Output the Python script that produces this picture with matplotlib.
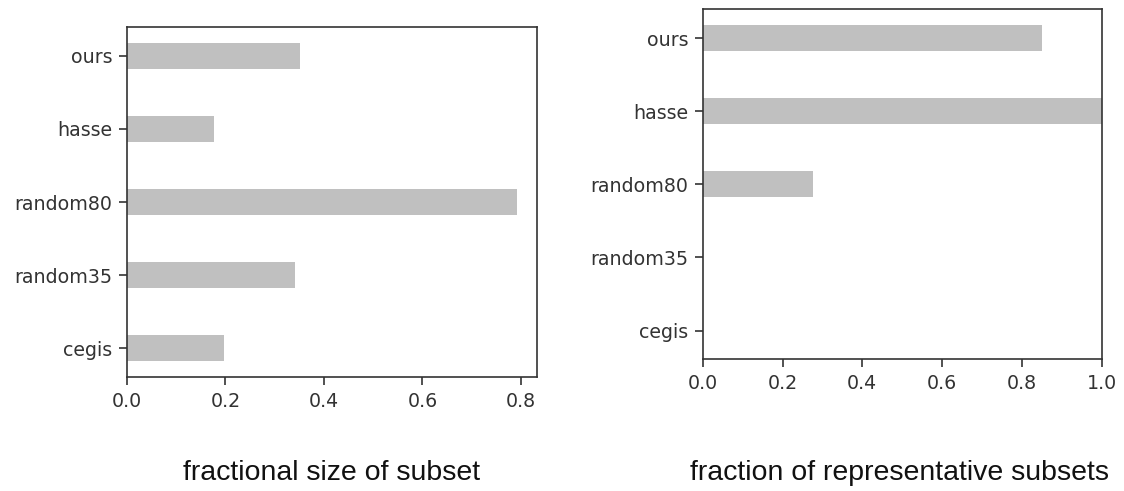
import matplotlib.pyplot as plt

methods = ["cegis", "random35", "random80", "hasse", "ours"]
subset_size = [0.198, 0.341, 0.793, 0.177, 0.351]
representative = [0.0, 0.0, 0.277, 1.0, 0.851]

plt.rcParams["font.size"] = 13.7
plt.rcParams["axes.linewidth"] = 1.2
plt.rcParams["xtick.major.size"] = 6
plt.rcParams["ytick.major.size"] = 6
plt.rcParams["xtick.major.pad"] = 4.5
plt.rcParams["ytick.major.pad"] = 4.5
plt.rcParams["xtick.major.width"] = 1.2
plt.rcParams["ytick.major.width"] = 1.2
plt.rcParams["xtick.color"] = "#333333"
plt.rcParams["ytick.color"] = "#333333"
plt.rcParams["axes.edgecolor"] = "#333333"

fig = plt.figure(figsize=(11.24, 4.91), dpi=100)

# left panel: fractional size of each subset
ax1 = fig.add_axes([127 / 1124, 1 - 377 / 491, 410 / 1124, 350 / 491])
ax1.barh(methods, subset_size, height=0.35, color="silver")
ax1.set_xticks([0.0, 0.2, 0.4, 0.6, 0.8])

# right panel: fraction of subsets that are representative
ax2 = fig.add_axes([702.7 / 1124, 1 - 359.3 / 491, 399 / 1124, 350 / 491])
ax2.barh(methods, representative, height=0.35, color="silver")
ax2.set_xlim(0, 1.0)
ax2.set_xticks([0.0, 0.2, 0.4, 0.6, 0.8, 1.0])

cap = dict(family=["Liberation Sans", "DejaVu Sans"], fontsize=20.5,
           ha="center", va="baseline", color="#111111")
fig.text(332 / 1124, 1 - 480 / 491, "fractional size of subset", **cap)
fig.text(899 / 1124, 1 - 480 / 491, "fraction of representative subsets", **cap)

fig.savefig("out.png", dpi=100)
